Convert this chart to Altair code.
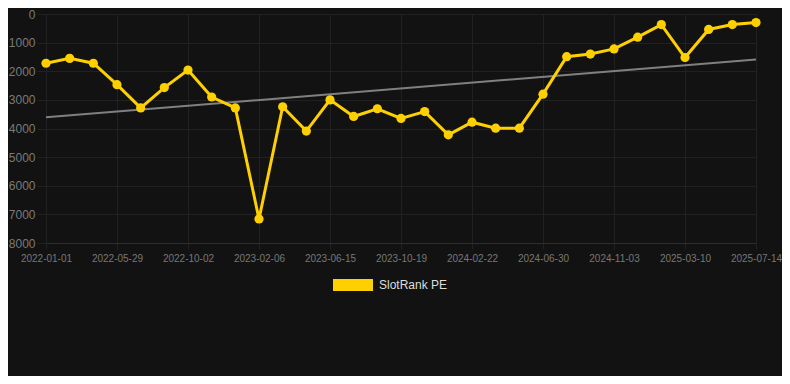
import altair as alt
import pandas as pd

dates = [
    "2022-01-01", "2022-02-19", "2022-04-09", "2022-05-29", "2022-07-10", "2022-08-21",
    "2022-10-02", "2022-11-14", "2022-12-26", "2023-02-06", "2023-03-20", "2023-05-02",
    "2023-06-15", "2023-07-27", "2023-09-07", "2023-10-19", "2023-11-30", "2024-01-11",
    "2024-02-22", "2024-04-04", "2024-05-17", "2024-06-30", "2024-08-11", "2024-09-22",
    "2024-11-03", "2024-12-15", "2025-01-26", "2025-03-10", "2025-04-21", "2025-06-02",
    "2025-07-14",
]
rank = [
    1720, 1550, 1720, 2470, 3280, 2570, 1960, 2900, 3280, 7160,
    3240, 4090, 3000, 3580, 3310, 3650, 3410, 4220, 3780, 3990,
    3990, 2800, 1490, 1400, 1220, 810, 370, 1520, 540, 370, 300,
]
tick_labels = ["2022-01-01", "2022-05-29", "2022-10-02", "2023-02-06", "2023-06-15",
               "2023-10-19", "2024-02-22", "2024-06-30", "2024-11-03", "2025-03-10",
               "2025-07-14"]
y_ticks = [0, 1000, 2000, 3000, 4000, 5000, 6000, 7000, 8000]
trend_dates = ["2022-01-01", "2025-07-14"]
trend_values = [3610, 1590]
series_name = "SlotRank PE"

df = pd.DataFrame({"date": dates, "rank": rank, "series": series_name})
tdf = pd.DataFrame({"date": trend_dates, "rank": trend_values})

FONT = "Liberation Sans"
GRID = "#212121"
YELLOW = "#FFD000"

x_enc = alt.X(
    "date:O",
    sort=dates,
    scale=alt.Scale(type="point", domain=dates, padding=0),
    axis=alt.Axis(
        values=tick_labels, title=None, labelAngle=0, labelAlign="center",
        labelBaseline="top", labelFontSize=10, labelOverlap=False,
        labelColor="#777777", labelFont=FONT, grid=True, gridColor=GRID,
        tickColor=GRID, tickSize=6, labelPadding=4, domain=True,
        domainColor="#2e2e2e",
    ),
)
y_enc = alt.Y(
    "rank:Q",
    scale=alt.Scale(domain=[0, 8000], reverse=True, nice=False),
    axis=alt.Axis(
        values=y_ticks, format="d", title=None, labelFontSize=12,
        labelOverlap=False, labelColor="#7a7a7a", labelFont=FONT, grid=True,
        gridColor=GRID, ticks=True, tickColor=GRID, tickSize=9,
        labelPadding=2, domain=False,
    ),
)

trend = alt.Chart(tdf).mark_line(color="#808080", strokeWidth=2).encode(x=x_enc, y=y_enc)

color_enc = alt.Color(
    "series:N",
    scale=alt.Scale(domain=[series_name], range=[YELLOW]),
    legend=alt.Legend(
        title=None, orient="none", legendX=287, legendY=251,
        symbolType="M-1,-0.3H1V0.3H-1Z", symbolSize=1600,
        symbolFillColor=YELLOW, symbolStrokeWidth=0,
        labelColor="#dddddd", labelFontSize=12, labelFont=FONT,
        labelOffset=6, symbolOffset=0, padding=0,
    ),
)

line = alt.Chart(df).mark_line(strokeWidth=3).encode(x=x_enc, y=y_enc, color=color_enc)
points = alt.Chart(df).mark_circle(size=85, opacity=1, color=YELLOW).encode(x=x_enc, y=y_enc)

chart = (
    alt.layer(trend, line, points)
    .properties(
        width=710, height=229, background="#121212",
        autosize=alt.AutoSizeParams(type="none"),
        padding={"left": 38, "top": 6, "right": 26, "bottom": 133},
    )
    .configure_view(stroke=None)
)

chart.save("out.html", embed_options={"renderer": "svg", "actions": False})
